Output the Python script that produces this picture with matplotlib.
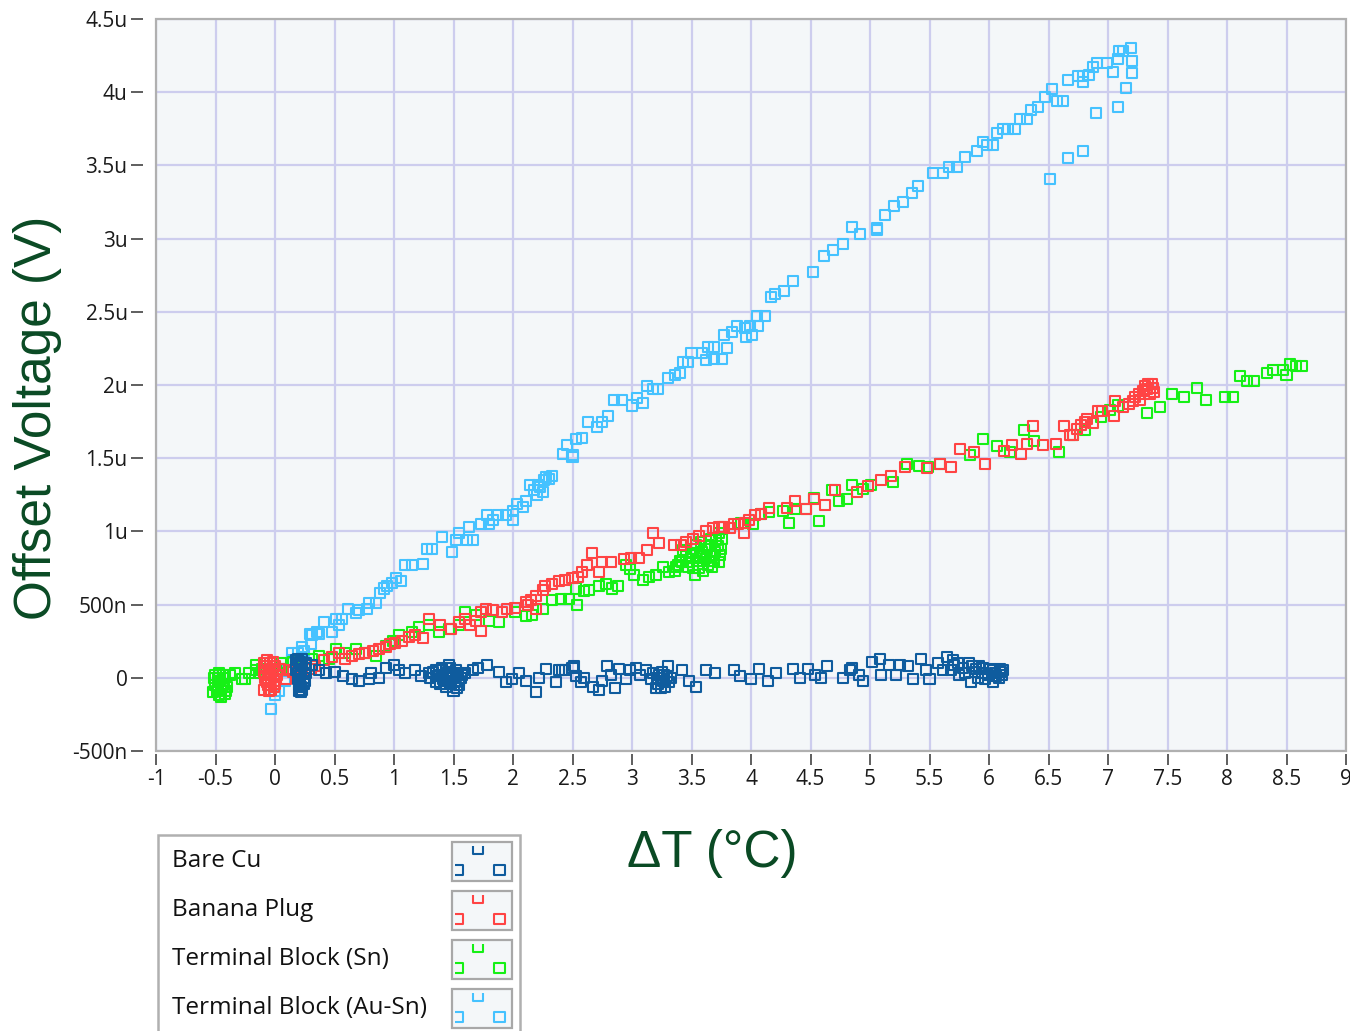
import matplotlib
matplotlib.use('Agg')
import matplotlib.pyplot as plt
from matplotlib.patches import Rectangle
from matplotlib import font_manager

# ---------------- data (offset voltage in microvolts vs delta T in degC) ----------------
series_names = ["Bare Cu", "Banana Plug", "Terminal Block (Sn)", "Terminal Block (Au-Sn)"]
series_colors = ["#0f5c9e", "#ff4444", "#16f016", "#45c2ff"]

bare_cu = [
    (0.18, 0.12), (0.20, 0.10), (0.19, 0.03), (0.21, -0.02), (0.22, 0.05), (0.23, -0.08),
    (0.24, 0.00), (0.25, 0.07), (0.20, -0.05), (0.26, 0.03), (0.18, 0.08), (0.22, -0.06),
    (0.19, 0.13), (0.21, 0.11), (0.23, 0.09), (0.19, -0.01), (0.21, 0.02), (0.24, -0.04),
    (0.20, -0.09), (0.22, -0.10), (0.25, -0.02), (0.26, 0.10), (0.18, 0.05), (0.23, 0.13),
    (0.31, 0.09), (0.37, 0.05), (0.43, 0.03), (0.50, 0.04), (0.57, 0.01), (0.65, -0.01),
    (0.71, -0.02), (0.79, -0.01), (0.81, 0.03), (0.87, 0.00), (0.93, 0.07), (1.00, 0.09),
    (1.04, 0.05), (1.09, 0.03), (1.18, 0.05), (1.23, 0.01), (1.29, 0.03), (1.35, 0.05),
    (1.40, 0.07), (1.46, 0.09), (1.52, 0.01), (1.50, -0.09), (1.43, -0.04), (1.55, -0.02),
    (1.30, 0.00), (1.35, -0.03), (1.38, 0.02), (1.42, -0.02), (1.45, 0.04), (1.48, -0.04),
    (1.50, 0.00), (1.52, 0.05), (1.47, 0.07), (1.40, 0.05), (1.55, -0.05), (1.57, 0.02),
    (1.33, 0.04), (1.44, -0.06), (1.53, -0.07), (1.36, 0.01), (1.41, -0.01), (1.46, 0.01),
    (1.49, 0.03), (1.51, -0.03), (1.54, 0.03), (1.47, -0.02), (1.39, -0.04), (1.56, 0.00),
    (1.60, 0.03), (1.66, 0.05), (1.71, 0.07), (1.78, 0.09), (1.88, 0.04), (1.94, -0.03),
    (1.99, -0.01), (2.05, 0.03), (2.11, -0.02), (2.19, -0.10), (2.22, 0.00), (2.28, 0.06),
    (2.36, -0.03), (2.39, 0.05), (2.44, 0.05), (2.41, 0.05), (2.50, 0.07), (2.53, 0.01),
    (2.51, 0.08), (2.57, -0.03), (2.60, 0.00), (2.67, -0.06), (2.72, -0.08), (2.75, -0.02),
    (2.79, 0.08), (2.82, 0.02), (2.86, -0.07), (2.89, 0.06), (2.95, -0.01), (2.98, 0.05),
    (3.03, 0.07), (3.07, 0.02), (3.12, 0.05), (3.16, -0.01), (3.20, -0.07), (3.23, 0.02),
    (3.30, 0.08), (3.31, -0.03), (3.27, 0.02), (3.22, -0.04), (3.25, 0.04), (3.28, -0.06),
    (3.18, 0.03), (3.33, 0.00), (3.21, 0.00), (3.26, -0.02), (3.29, 0.01), (3.24, -0.07),
    (3.42, 0.05), (3.48, -0.02), (3.54, -0.06), (3.62, 0.05),
    (3.70, 0.03), (3.86, 0.05), (3.91, 0.01), (4.00, -0.01), (4.07, 0.06), (4.14, -0.02),
    (4.21, 0.03), (4.35, 0.06), (4.41, 0.00), (4.48, 0.06), (4.54, 0.02), (4.59, 0.00),
    (4.64, 0.08), (4.77, 0.00), (4.83, 0.05), (4.85, 0.07), (4.91, 0.02), (4.94, -0.02),
    (5.02, 0.11), (5.08, 0.13), (5.09, 0.02), (5.16, 0.09), (5.22, 0.02), (5.25, 0.09),
    (5.32, 0.08), (5.36, -0.01), (5.43, 0.13), (5.47, 0.05), (5.50, -0.01), (5.57, 0.10),
    (5.61, 0.05), (5.65, 0.14), (5.71, 0.09), (5.75, 0.02), (5.83, 0.10), (5.85, -0.03),
    (5.89, 0.06), (5.95, 0.07), (5.97, -0.01), (6.03, -0.03), (6.03, 0.05), (6.09, 0.06),
    (6.11, 0.02), (5.88, 0.04), (5.92, 0.08), (5.99, 0.02), (6.05, 0.03), (6.08, 0.00),
    (6.10, 0.04), (5.78, 0.07), (5.70, 0.12), (5.68, 0.05), (5.80, 0.03), (5.86, 0.08),
    (5.94, 0.03), (6.01, 0.06), (6.06, 0.01), (5.74, 0.10), (5.91, 0.00), (6.12, 0.05),
]

banana_plug = [
    (-0.09, -0.08), (-0.08, 0.00), (-0.08, 0.08), (-0.06, -0.05), (-0.05, 0.03), (-0.04, 0.10),
    (-0.03, -0.08), (-0.02, 0.05), (-0.01, -0.02), (0.00, 0.08), (0.02, 0.02), (-0.07, 0.12),
    (-0.09, 0.04), (-0.07, -0.03), (-0.05, -0.09), (-0.04, 0.06), (-0.02, 0.11), (-0.01, -0.06),
    (-0.09, 0.10), (-0.06, 0.02), (-0.03, 0.00), (0.00, -0.04),
    (0.04, 0.06), (0.03, 0.06), (0.09, -0.01), (0.12, 0.05), (0.15, 0.04), (0.23, 0.06),
    (0.30, 0.06), (0.34, 0.08), (0.41, 0.12), (0.48, 0.14), (0.54, 0.17), (0.59, 0.13),
    (0.65, 0.15), (0.71, 0.16), (0.76, 0.17), (0.82, 0.18), (0.87, 0.20), (0.93, 0.21),
    (0.97, 0.23), (1.01, 0.24), (1.07, 0.25), (1.13, 0.28), (1.18, 0.29), (1.24, 0.27),
    (1.29, 0.40), (1.39, 0.36), (1.48, 0.33), (1.55, 0.38), (1.60, 0.40), (1.73, 0.32),
    (1.64, 0.36), (1.69, 0.39), (1.73, 0.45), (1.77, 0.47), (1.83, 0.46), (1.91, 0.45),
    (1.95, 0.47), (2.02, 0.48), (2.13, 0.50), (2.19, 0.47), (2.11, 0.52), (2.15, 0.53),
    (2.19, 0.56), (2.25, 0.60), (2.27, 0.63), (2.33, 0.64), (2.39, 0.66), (2.44, 0.67),
    (2.50, 0.68), (2.55, 0.69), (2.58, 0.72), (2.62, 0.77), (2.66, 0.85), (2.72, 0.72),
    (2.75, 0.79), (2.82, 0.79), (2.93, 0.81), (2.99, 0.82), (3.06, 0.82), (3.13, 0.87),
    (3.18, 0.99), (3.23, 0.92), (3.35, 0.91), (3.41, 0.91), (3.45, 0.93), (3.51, 0.95),
    (3.56, 0.97), (3.62, 1.00), (3.68, 1.02), (3.73, 1.03), (3.77, 1.03), (3.86, 1.05),
    (3.82, 1.02), (3.76, 1.03), (3.89, 1.05), (3.94, 0.99), (3.95, 1.06), (3.98, 1.08),
    (4.03, 1.11), (4.08, 1.12), (4.15, 1.16), (4.30, 1.16), (4.37, 1.21), (4.46, 1.15),
    (4.53, 1.22), (4.62, 1.18), (4.71, 1.28), (4.89, 1.27), (4.98, 1.31), (5.09, 1.35),
    (5.18, 1.38), (5.29, 1.44), (5.48, 1.43), (5.59, 1.46), (5.68, 1.44), (5.76, 1.56),
    (5.87, 1.54), (5.97, 1.46), (6.13, 1.55), (6.19, 1.59), (6.27, 1.53), (6.32, 1.60),
    (6.37, 1.72), (6.45, 1.59), (6.56, 1.60), (6.63, 1.72), (6.68, 1.66), (6.71, 1.66),
    (6.74, 1.70), (6.77, 1.73), (6.81, 1.75), (6.82, 1.77), (6.87, 1.74), (6.92, 1.82),
    (6.95, 1.82), (7.05, 1.79), (7.06, 1.89), (7.13, 1.85), (7.18, 1.87), (7.21, 1.89),
    (7.27, 1.90), (7.23, 1.92), (7.26, 1.94), (7.29, 1.96), (7.35, 1.94), (7.39, 1.95),
    (7.31, 1.99), (7.34, 2.01), (7.37, 2.01), (7.38, 1.98), (7.33, 1.97),
]

terminal_sn = [
    (-0.52, -0.10), (-0.50, -0.05), (-0.48, 0.00), (-0.47, -0.12), (-0.45, -0.08), (-0.44, 0.02),
    (-0.43, -0.04), (-0.42, -0.11), (-0.40, -0.06), (-0.50, 0.02), (-0.46, -0.02), (-0.38, 0.02),
    (-0.49, -0.09), (-0.47, 0.03), (-0.45, -0.13), (-0.43, 0.00), (-0.41, -0.09), (-0.48, -0.06),
    (-0.44, -0.05), (-0.51, 0.00),
    (-0.34, 0.03), (-0.28, -0.01), (-0.25, -0.01), (-0.22, 0.03), (-0.16, 0.05), (-0.16, 0.09),
    (-0.13, 0.03), (-0.11, 0.06), (-0.05, 0.06), (0.01, 0.06), (0.06, 0.06), (0.05, 0.10),
    (0.15, 0.11), (0.23, 0.08), (0.31, 0.13), (0.37, 0.15), (0.45, 0.13), (0.51, 0.20),
    (0.59, 0.17), (0.68, 0.20), (0.76, 0.17), (0.85, 0.15), (0.93, 0.22), (0.99, 0.25),
    (1.04, 0.29), (1.15, 0.31), (1.21, 0.35), (1.29, 0.36), (1.38, 0.31), (1.46, 0.33),
    (1.55, 0.36), (1.60, 0.45), (1.69, 0.43), (1.80, 0.39), (1.88, 0.38), (2.02, 0.45),
    (2.11, 0.42), (2.16, 0.43), (2.25, 0.47), (2.33, 0.53), (2.40, 0.54), (2.54, 0.50),
    (2.47, 0.54), (2.53, 0.61), (2.60, 0.59), (2.64, 0.60), (2.72, 0.63), (2.78, 0.64),
    (2.83, 0.61), (2.88, 0.63), (2.95, 0.77), (2.98, 0.74), (3.02, 0.70), (3.09, 0.67),
    (3.14, 0.69), (3.20, 0.70), (3.26, 0.76), (3.31, 0.72), (3.37, 0.76), (3.42, 0.79),
    (3.48, 0.79), (3.54, 0.91), (3.59, 0.86), (3.65, 0.91), (3.51, 0.75), (3.56, 0.75),
    (3.62, 0.82), (3.67, 0.76), (3.73, 0.79), (3.70, 0.86), (3.76, 0.95), (3.50, 0.85),
    (3.55, 0.80), (3.60, 0.78), (3.63, 0.88), (3.68, 0.84), (3.72, 0.90), (3.45, 0.83),
    (3.40, 0.80), (3.58, 0.93), (3.66, 0.80), (3.74, 0.84), (3.53, 0.70), (3.36, 0.73),
    (3.57, 0.83), (3.61, 0.90), (3.64, 0.77), (3.69, 0.80), (3.71, 0.94), (3.75, 0.88),
    (3.52, 0.88), (3.47, 0.76), (3.43, 0.87), (3.39, 0.77), (3.66, 0.95), (3.60, 0.73),
    (3.73, 0.99), (3.92, 1.06), (4.02, 1.05), (4.08, 1.12), (4.15, 1.13), (4.27, 1.14),
    (4.32, 1.06), (4.37, 1.15), (4.46, 1.15), (4.53, 1.23), (4.57, 1.07), (4.68, 1.28),
    (4.74, 1.21), (4.81, 1.22), (4.85, 1.32), (4.94, 1.29), (5.01, 1.32), (5.19, 1.34),
    (5.31, 1.46), (5.41, 1.45), (5.49, 1.44), (5.59, 1.46), (5.84, 1.52), (5.95, 1.63),
    (6.07, 1.58), (6.18, 1.54), (6.29, 1.69), (6.38, 1.62), (6.59, 1.54), (6.71, 1.66),
    (6.81, 1.69), (6.94, 1.78), (7.02, 1.83), (7.08, 1.86), (7.33, 1.81), (7.44, 1.85),
    (7.54, 1.94), (7.64, 1.92), (7.75, 1.98), (7.82, 1.90), (7.98, 1.92), (8.05, 1.92),
    (8.11, 2.06), (8.17, 2.03), (8.23, 2.03), (8.34, 2.08), (8.39, 2.10), (8.47, 2.10),
    (8.50, 2.07), (8.53, 2.14), (8.58, 2.13), (8.63, 2.13),
]

terminal_ausn = [
    (-0.03, -0.21), (0.00, -0.12), (0.03, -0.09), (0.08, -0.02), (0.10, 0.05), (0.06, 0.10),
    (0.14, 0.12), (0.19, 0.17), (0.14, 0.17), (0.24, 0.18), (0.23, 0.21), (0.30, 0.23),
    (0.31, 0.29), (0.29, 0.30), (0.37, 0.30), (0.35, 0.31), (0.41, 0.38), (0.48, 0.31),
    (0.54, 0.36), (0.51, 0.40), (0.56, 0.40), (0.61, 0.47), (0.68, 0.44), (0.71, 0.46),
    (0.77, 0.47), (0.79, 0.51), (0.85, 0.51), (0.88, 0.58), (0.92, 0.61), (0.94, 0.63),
    (0.98, 0.65), (1.02, 0.68), (1.06, 0.66), (1.09, 0.77), (1.15, 0.77), (1.24, 0.78),
    (1.28, 0.88), (1.32, 0.88), (1.40, 0.96), (1.49, 0.86), (1.52, 0.94), (1.61, 0.94),
    (1.66, 0.94), (1.55, 0.99), (1.63, 1.03), (1.73, 1.05), (1.80, 1.05), (1.78, 1.11),
    (1.83, 1.08), (1.87, 1.11), (2.00, 1.08), (1.94, 1.11), (2.00, 1.14), (2.03, 1.19),
    (2.11, 1.21), (2.20, 1.25), (2.25, 1.27), (2.14, 1.32), (2.21, 1.32), (2.26, 1.35),
    (2.28, 1.37), (2.33, 1.38), (2.18, 1.28), (2.23, 1.30), (2.30, 1.36), (2.08, 1.17),
    (2.42, 1.53), (2.50, 1.51), (2.45, 1.59), (2.50, 1.52),
    (2.53, 1.63), (2.58, 1.64), (2.63, 1.75), (2.71, 1.71), (2.75, 1.75), (2.80, 1.79),
    (2.85, 1.90), (2.92, 1.90), (3.00, 1.86), (3.04, 1.91), (3.09, 1.88), (3.13, 1.99),
    (3.18, 1.97), (3.22, 1.97), (3.30, 2.05), (3.36, 2.07), (3.40, 2.08), (3.43, 2.16),
    (3.47, 2.16), (3.50, 2.22), (3.59, 2.22), (3.62, 2.17), (3.69, 2.18), (3.64, 2.26),
    (3.69, 2.26), (3.76, 2.18), (3.80, 2.25), (3.77, 2.34), (3.84, 2.36), (3.88, 2.40),
    (3.96, 2.33), (4.01, 2.34), (3.95, 2.39), (3.99, 2.40), (4.06, 2.40), (4.05, 2.47),
    (4.12, 2.47), (4.17, 2.60), (4.20, 2.62), (4.28, 2.64), (4.35, 2.71), (4.52, 2.77),
    (4.61, 2.88), (4.69, 2.92), (4.77, 2.96), (4.85, 3.08), (4.92, 3.03), (5.06, 3.06),
    (5.06, 3.07), (5.13, 3.16), (5.20, 3.22), (5.28, 3.25), (5.35, 3.31), (5.40, 3.36),
    (5.53, 3.45), (5.61, 3.45), (5.66, 3.49), (5.73, 3.49), (5.80, 3.56), (5.90, 3.60),
    (5.95, 3.66), (5.98, 3.64), (6.03, 3.64), (6.07, 3.72), (6.12, 3.75), (6.16, 3.75),
    (6.22, 3.75), (6.26, 3.82), (6.32, 3.82), (6.35, 3.88), (6.41, 3.90), (6.47, 3.97),
    (6.53, 4.02), (6.57, 3.94), (6.62, 3.94), (6.66, 4.08), (6.75, 4.11), (6.79, 4.11),
    (6.79, 4.07), (6.84, 4.12), (6.87, 4.17), (6.91, 4.20), (6.99, 4.20), (7.04, 4.14),
    (7.08, 4.23), (7.09, 4.28), (7.13, 4.28), (7.19, 4.30), (7.20, 4.21), (7.20, 4.13),
    (7.15, 4.03), (7.08, 3.90), (6.90, 3.86), (6.79, 3.60), (6.66, 3.55), (6.51, 3.41),
]

x_ticks = [-1, -0.5, 0, 0.5, 1, 1.5, 2, 2.5, 3, 3.5, 4, 4.5, 5, 5.5, 6, 6.5, 7, 7.5, 8, 8.5, 9]
x_tick_labels = ["-1", "-0.5", "0", "0.5", "1", "1.5", "2", "2.5", "3", "3.5", "4", "4.5",
                 "5", "5.5", "6", "6.5", "7", "7.5", "8", "8.5", "9"]
y_ticks = [-0.5, 0, 0.5, 1, 1.5, 2, 2.5, 3, 3.5, 4, 4.5]
y_tick_labels = ["-500n", "0", "500n", "1u", "1.5u", "2u", "2.5u", "3u", "3.5u", "4u", "4.5u"]

x_label = "\u0394T (\u00b0C)"
y_label = "Offset Voltage (V)"

# ---------------- styling ----------------
available = {f.name for f in font_manager.fontManager.ttflist}
tick_family = "Open Sans" if "Open Sans" in available else "DejaVu Sans"
label_family = "Liberation Sans" if "Liberation Sans" in available else "DejaVu Sans"

W, H = 1350, 1031
fig = plt.figure(figsize=(W / 100, H / 100), dpi=100)
fig.patch.set_facecolor("white")


def fx(px):
    return px / W


def fy(py):
    return 1 - py / H


label_color = "#0a4a24"
grid_color = "#cdcdee"
face_color = "#f4f7f9"
frame_color = "#b0b0b0"
tick_color = "#333333"
marker_size = 52
marker_lw = 1.5

ax = fig.add_axes([fx(156), fy(751), fx(1346) - fx(156), fy(19) - fy(751)])
ax.set_facecolor(face_color)
ax.set_xlim(-1, 9)
ax.set_ylim(-0.5, 4.5)

# draw order: Au-Sn, Sn, Banana, Bare Cu
order = [3, 2, 1, 0]
data = [bare_cu, banana_plug, terminal_sn, terminal_ausn]
for i in order:
    xs = [p[0] for p in data[i]]
    ys = [p[1] for p in data[i]]
    ax.scatter(xs, ys, marker="s", s=marker_size, facecolors="none",
               edgecolors=series_colors[i], linewidths=marker_lw, zorder=3 + (3 - i))

ax.set_xticks(x_ticks)
ax.set_xticklabels(x_tick_labels)
ax.set_yticks(y_ticks)
ax.set_yticklabels(y_tick_labels)
ax.grid(True, color=grid_color, linewidth=1.6, zorder=0)
ax.set_axisbelow(True)

for s in ax.spines.values():
    s.set_visible(False)
ax.spines["left"].set_visible(True)
ax.spines["left"].set_position(("outward", 9.5))
ax.spines["left"].set_color("none")
ax.spines["bottom"].set_visible(True)
ax.spines["bottom"].set_position(("outward", 2.2))
ax.spines["bottom"].set_color("none")
ax.add_patch(Rectangle((0, 0), 1, 1, transform=ax.transAxes, fill=False,
                       edgecolor=frame_color, linewidth=1.6, clip_on=False, zorder=10))

ax.tick_params(axis="y", direction="out", length=8.5, width=1.1, color=tick_color,
               pad=2.5, labelsize=15, labelcolor="#1a1a1a")
ax.tick_params(axis="x", direction="out", length=8.0, width=1.1, color=tick_color,
               pad=3, labelsize=15, labelcolor="#1a1a1a")
for lab in ax.get_xticklabels() + ax.get_yticklabels():
    lab.set_family(tick_family)

fig.text(fx(38), fy(418), y_label, rotation=90, ha="center", va="center",
         fontsize=37, color=label_color, family=label_family)
fig.text(fx(712), fy(853), x_label, ha="center", va="center",
         fontsize=37, color=label_color, family=label_family)

# ---------------- legend (LabVIEW style plot legend) ----------------
fig.patches.append(Rectangle((fx(158), fy(1045)), fx(520) - fx(158), fy(835) - fy(1045),
                             transform=fig.transFigure, facecolor="white",
                             edgecolor=frame_color, linewidth=1.8, zorder=1))
row_step = 49
for k, name in enumerate(series_names):
    top = 842 + k * row_step
    fig.text(fx(172), fy(top + 19), name, ha="left", va="center", fontsize=17.5,
             color="#111111", family=tick_family)
    fig.patches.append(Rectangle((fx(452), fy(top + 39)), fx(512) - fx(452),
                                 fy(top) - fy(top + 39), transform=fig.transFigure,
                                 facecolor=face_color, edgecolor="#a8a8a8",
                                 linewidth=1.6, zorder=2))
    inner = fig.add_axes([fx(455), fy(top + 37), fx(510) - fx(455), fy(top + 4) - fy(top + 37)])
    inner.set_zorder(20)
    inner.set_xlim(0, 55)
    inner.set_ylim(33, 0)
    inner.axis("off")
    inner.patch.set_alpha(0)
    inner.scatter([23, 2.5, 44.5], [3.0, 24.0, 24.0], marker="s", s=marker_size,
                  facecolors="none", edgecolors=series_colors[k], linewidths=marker_lw,
                  clip_on=True)

fig.savefig("out.png", dpi=100)
